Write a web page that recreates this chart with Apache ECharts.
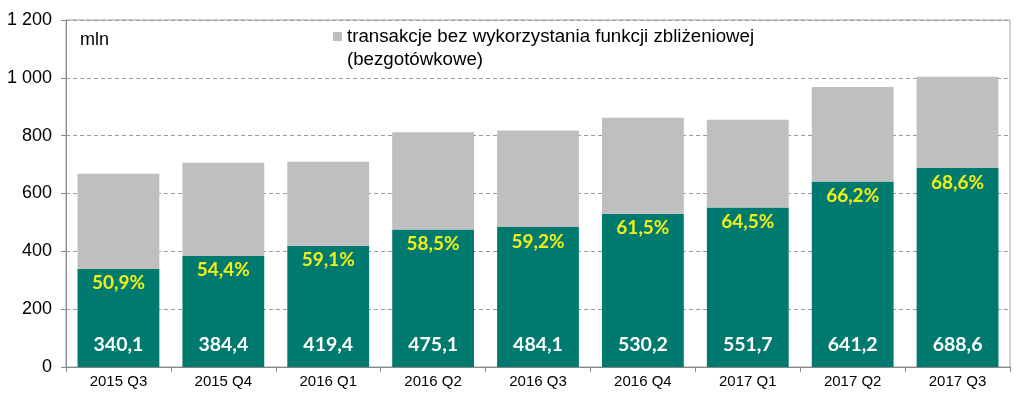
<!DOCTYPE html>
<html><head><meta charset="utf-8">
<script src="https://cdn.jsdelivr.net/npm/echarts@6/dist/echarts.min.js"></script>
<style>html,body{margin:0;padding:0;background:#fff}#c{width:1024px;height:394px}</style>
</head><body><div id="c"></div>
<script>
const categories = ['2015 Q3','2015 Q4','2016 Q1','2016 Q2','2016 Q3','2016 Q4','2017 Q1','2017 Q2','2017 Q3'];
const contactless = [340.1, 384.4, 419.4, 475.1, 484.1, 530.2, 551.7, 641.2, 688.6];
const nonContactless = [328.1, 322.2, 290.2, 337.0, 333.6, 331.9, 303.6, 327.4, 315.2];
const shareLabels = ['50,9%','54,4%','59,1%','58,5%','59,2%','61,5%','64,5%','66,2%','68,6%'];
const grayNameLines = ['transakcje bez wykorzystania funkcji zbliżeniowej', '(bezgotówkowe)'];
const grayName = grayNameLines.join('\n');

const chart = echarts.init(document.getElementById('c'));
const fmtNum = v => String(v).replace(/\B(?=(\d{3})+(?!\d))/g, ' ');
const FONT = 'Liberation Sans, Arial';
chart.setOption({
  animation: false,
  grid: {left: 66, right: 14, top: 20, bottom: 27, show: true, borderColor: '#A0A0A0', borderWidth: 1},
  legend: {
    data: [grayName], left: 333, top: 27, padding: 0, icon: 'rect', itemWidth: 9, itemHeight: 9,
    selectedMode: false,
    formatter: () => grayNameLines[0],
    textStyle: {fontFamily: FONT, fontSize: 18.7, color: '#000'}
  },
  graphic: [
    {type: 'text', x: 80, y: 40, style: {text: 'mln', fontFamily: FONT, fontSize: 18, fill: '#000', verticalAlign: 'middle'}},
    {type: 'text', x: 347, y: 60, style: {text: grayNameLines[1], fontFamily: FONT, fontSize: 18.7, fill: '#000', verticalAlign: 'middle'}}
  ],
  xAxis: {
    type: 'category', data: categories,
    axisLine: {lineStyle: {color: '#888', width: 1}},
    axisTick: {show: true, length: 5, lineStyle: {color: '#888'}},
    axisLabel: {fontFamily: FONT, fontSize: 15, color: '#000', margin: 7}
  },
  yAxis: {
    type: 'value', min: 0, max: 1200, interval: 200,
    axisLine: {show: true, lineStyle: {color: '#888'}},
    axisTick: {show: true, length: 5, lineStyle: {color: '#888'}},
    axisLabel: {fontFamily: FONT, fontSize: 18, color: '#000', margin: 14, formatter: v => fmtNum(v)},
    splitLine: {lineStyle: {color: '#999', type: [4, 3], width: 1}}
  },
  series: [
    {
      name: 'contactless', type: 'bar', stack: 'a', data: contactless, barCategoryGap: '22%',
      itemStyle: {color: '#007A6E'},
      label: {show: true, position: 'insideBottom', distance: 12, color: '#fff', fontFamily: 'Lato', fontWeight: 'bold', fontSize: 19.5,
        formatter: p => String(p.value).replace('.', ',')}
    },
    {
      name: grayName, type: 'bar', stack: 'a', data: nonContactless,
      itemStyle: {color: '#BFBFBF'}, label: {show: false}
    },
    {
      name: 'share', type: 'bar', data: contactless, barGap: '-100%',
      itemStyle: {color: 'rgba(0,0,0,0)'}, z: 5,
      label: {show: true, position: 'insideTop', distance: 5, color: '#F0F014', fontFamily: 'Lato', fontWeight: 'bold', fontSize: 19,
        formatter: p => shareLabels[p.dataIndex]}
    }
  ]
});
</script></body></html>
